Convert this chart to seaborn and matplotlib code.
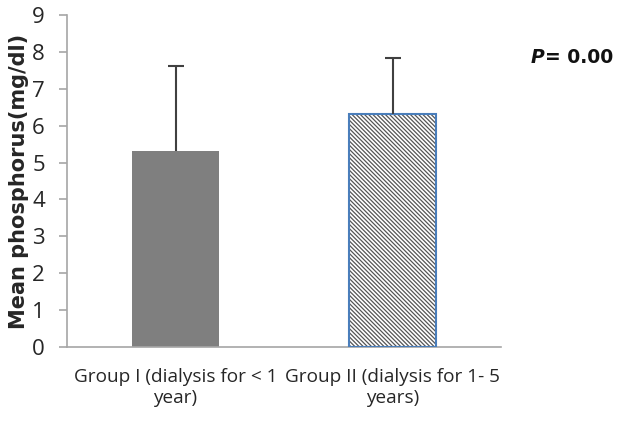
import matplotlib
matplotlib.use("Agg")
import matplotlib.pyplot as plt
import seaborn as sns
import pandas as pd
from matplotlib.patches import Rectangle

categories = ["Group I (dialysis for < 1\nyear)", "Group II (dialysis for 1- 5\nyears)"]
means = [5.32, 6.31]
sds = [2.30, 1.53]
yticks = [0, 1, 2, 3, 4, 5, 6, 7, 8, 9]

sns.set_style("white")
plt.rcParams['font.family'] = ['Open Sans', 'DejaVu Sans']
plt.rcParams['hatch.linewidth'] = 0.9

df = pd.DataFrame({"group": categories, "mean": means})

fig = plt.figure(figsize=(6.17, 4.24), dpi=100)
ax = fig.add_axes([67/617, 1-347/424, (501-67)/617, (347-15)/424])

sns.barplot(data=df, x="group", y="mean", ax=ax, width=0.4,
            palette=["#7f7f7f", "white"], hue="group", legend=False, errorbar=None)

patches = ax.patches
p1, p2 = patches[0], patches[1]
p1.set_edgecolor("#7f7f7f")
p1.set_linewidth(0)
p2.set_facecolor("white")
p2.set_edgecolor("#555555")
p2.set_hatch("\\\\\\\\\\\\\\\\")
p2.set_linewidth(0)
outline = Rectangle((p2.get_x(), p2.get_y()), p2.get_width(), p2.get_height(),
                    fill=False, edgecolor="#4a7ebb", linewidth=1.5, zorder=3)
ax.add_patch(outline)

xs = [p.get_x() + p.get_width()/2 for p in patches[:2]]
eb = ax.errorbar(xs, means, yerr=[[0, 0], sds], fmt="none", ecolor="#404040",
                 elinewidth=1.5, capsize=6, capthick=1.5, zorder=4)
caps = eb[1]
if len(caps) >= 2:
    caps[0].set_visible(False)

ax.set_ylim(0, 9)
ax.set_xlim(-0.5, 1.5)
ax.set_yticks(yticks)
ax.set_yticklabels([str(v) for v in yticks])
ax.set_xlabel("")
ax.set_ylabel("Mean phosphorus(mg/dl)", fontsize=15, fontweight="bold",
              family=["DejaVu Sans"], labelpad=2)

for s in ["top", "right"]:
    ax.spines[s].set_visible(False)
for s in ["left", "bottom"]:
    ax.spines[s].set_color("#a6a6a6")
    ax.spines[s].set_linewidth(1.2)

ax.set_xticks([-0.5, 0.5, 1.5], minor=False)
ax.set_xticks([0, 1], minor=True)
ax.set_xticklabels(["", "", ""])
ax.set_xticklabels(categories, minor=True)
ax.tick_params(axis="x", which="major", direction="out", length=6, color="#a6a6a6", width=1.2)
ax.tick_params(axis="x", which="minor", length=0, pad=15, labelsize=13.7, labelcolor="#262626")
ax.tick_params(axis="y", direction="out", length=6, color="#a6a6a6", width=1.2,
               pad=10, labelsize=16, labelcolor="#262626", left=True)

t2 = fig.text(613/617, 1-63/424, "= 0.00", fontsize=13.5, fontweight="bold",
              family=["DejaVu Sans"], va="baseline", ha="right", color="#111111")
ax.annotate("P", xy=(0, 0), xycoords=t2, fontsize=13.5, fontweight="bold", style="italic",
            family=["DejaVu Sans"], va="bottom", ha="right", color="#111111")

fig.savefig("out.png", dpi=100)
